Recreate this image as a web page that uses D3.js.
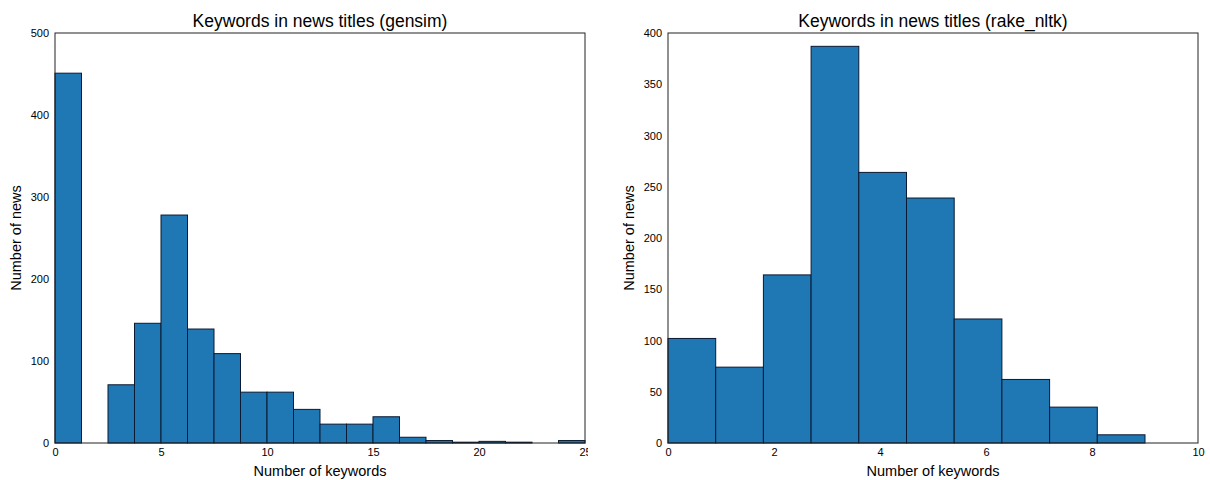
<!DOCTYPE html>
<html>
<head>
<meta charset="utf-8">
<script src="https://cdn.jsdelivr.net/npm/d3@7"></script>
<style>
  body { margin: 0; background: #fff; }
  svg { display: block; font-family: "Liberation Sans", Arial, sans-serif; }
</style>
</head>
<body>
<div id="chart"></div>
<script>
// gensim histogram: 20 bins over [0, 25]
const gensimEdges = d3.range(21).map(i => i * 1.25);
const gensimCounts = [451, 0, 71, 146, 278, 139, 109, 62, 62, 41, 23, 23, 32, 7, 3, 1, 2, 1, 0, 3];
const gensimXTicks = [0, 5, 10, 15, 20, 25];
const gensimYTicks = [0, 100, 200, 300, 400, 500];

// rake_nltk histogram: 10 bins over [0, 9]
const rakeEdges = d3.range(11).map(i => i * 0.9);
const rakeCounts = [102, 74, 164, 387, 264, 239, 121, 62, 35, 8];
const rakeXTicks = [0, 2, 4, 6, 8, 10];
const rakeYTicks = [0, 50, 100, 150, 200, 250, 300, 350, 400];

const width = 1210;
const height = 480;

const svg = d3.select("#chart")
  .append("svg")
  .attr("width", width)
  .attr("height", height);

// clip so the last tick label gets cut like in the original
svg.append("clipPath").attr("id", "leftclip")
  .append("rect").attr("x", 0).attr("y", 0).attr("width", 588).attr("height", height);

function drawHist(opts) {
  const {left, right, top, bottom, xDomain, yDomain, edges, counts, xTicks, yTicks, title, clip} = opts;

  const x = d3.scaleLinear().domain(xDomain).range([left, right]);
  const y = d3.scaleLinear().domain(yDomain).range([bottom, top]);

  const g = svg.append("g");
  if (clip) g.attr("clip-path", "url(#leftclip)");

  // bars
  g.selectAll(".bar")
    .data(counts)
    .enter()
    .append("rect")
      .attr("class", "bar")
      .attr("x", (d, i) => x(edges[i]))
      .attr("y", d => y(d))
      .attr("width", (d, i) => x(edges[i + 1]) - x(edges[i]))
      .attr("height", d => bottom - y(d))
      .attr("fill", "#1f77b4")
      .attr("stroke", "#0a1a33")
      .attr("stroke-width", 1);

  // frame
  g.append("rect")
    .attr("x", left).attr("y", top)
    .attr("width", right - left).attr("height", bottom - top)
    .attr("fill", "none")
    .attr("stroke", "#222")
    .attr("stroke-width", 1);

  // x axis
  const xAxis = g.append("g")
    .attr("transform", `translate(0,${bottom})`)
    .call(d3.axisBottom(x).tickValues(xTicks).tickSize(0).tickPadding(5).tickFormat(d3.format("d")));
  xAxis.select(".domain").remove();
  xAxis.selectAll("text").attr("font-size", "11px").attr("fill", "#000")
    .style("font-family", "'Liberation Sans', Arial, sans-serif");

  // y axis
  const yAxis = g.append("g")
    .attr("transform", `translate(${left},0)`)
    .call(d3.axisLeft(y).tickValues(yTicks).tickSize(0).tickPadding(6).tickFormat(d3.format("d")));
  yAxis.select(".domain").remove();
  yAxis.selectAll("text").attr("font-size", "11px").attr("fill", "#000")
    .style("font-family", "'Liberation Sans', Arial, sans-serif");

  // title
  svg.append("text")
    .attr("x", (left + right) / 2)
    .attr("y", 27)
    .attr("text-anchor", "middle")
    .attr("font-size", "17.5px")
    .attr("fill", "#000")
    .text(title);

  // axis labels
  svg.append("text")
    .attr("x", (left + right) / 2)
    .attr("y", bottom + 33)
    .attr("text-anchor", "middle")
    .attr("font-size", "14.5px")
    .attr("fill", "#000")
    .text("Number of keywords");

  svg.append("text")
    .attr("transform", `translate(${left - 34},${(top + bottom) / 2}) rotate(-90)`)
    .attr("text-anchor", "middle")
    .attr("font-size", "14.5px")
    .attr("fill", "#000")
    .text("Number of news");
}

drawHist({
  left: 55, right: 585, top: 33, bottom: 443,
  xDomain: [0, 25], yDomain: [0, 500],
  edges: gensimEdges, counts: gensimCounts,
  xTicks: gensimXTicks, yTicks: gensimYTicks,
  title: "Keywords in news titles (gensim)", clip: true
});

drawHist({
  left: 668, right: 1198, top: 33, bottom: 443,
  xDomain: [0, 10], yDomain: [0, 400],
  edges: rakeEdges, counts: rakeCounts,
  xTicks: rakeXTicks, yTicks: rakeYTicks,
  title: "Keywords in news titles (rake_nltk)", clip: false
});
</script>
</body>
</html>
